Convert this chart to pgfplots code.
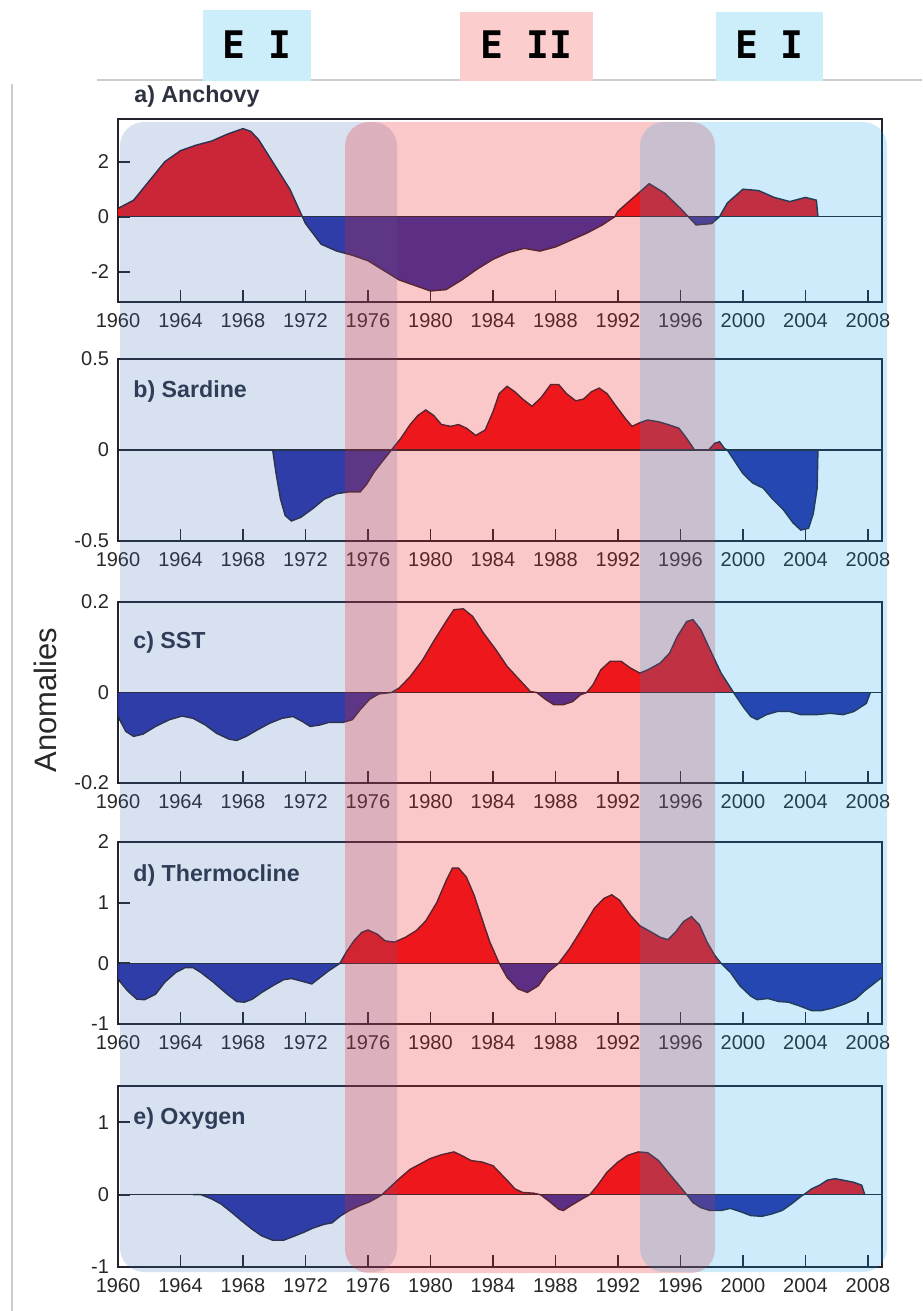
\documentclass[border=0pt]{standalone}
\usepackage{pgfplots}
\pgfplotsset{compat=1.18}
\usepackage{pgfplotstable}
\usepackage{fontspec}
\setmainfont{Liberation Sans}
\newfontfamily\hdrfont{DejaVu Sans Mono}

\definecolor{myred}{RGB}{240,20,25}
\definecolor{myblue}{RGB}{45,50,165}
\definecolor{linecol}{RGB}{40,38,55}
\definecolor{axiscol}{RGB}{35,35,45}
\definecolor{labelcol}{RGB}{40,40,40}
\definecolor{ovblueL}{RGB}{55,105,180}
\definecolor{ovpink}{RGB}{235,35,35}
\definecolor{ovblueR}{RGB}{5,155,230}
\definecolor{hdrblue}{RGB}{204,237,250}
\definecolor{hdrpink}{RGB}{251,205,205}
\definecolor{framecol}{RGB}{205,205,205}
\definecolor{titlecol}{RGB}{45,50,65}

\pgfplotstableread{
x y
1960 0.3
1961 0.6
1962 1.3
1963 2.0
1964 2.4
1965 2.6
1966 2.75
1967 3.0
1968 3.2
1968.5 3.1
1969 2.8
1970 1.9
1971 1.0
1971.8 0
1972 -0.25
1973 -1.0
1974 -1.25
1975 -1.4
1976 -1.6
1977 -1.95
1978 -2.3
1979 -2.5
1980 -2.7
1981 -2.65
1982 -2.3
1983 -1.9
1984 -1.55
1985 -1.3
1986 -1.15
1987 -1.25
1988 -1.1
1989 -0.85
1990 -0.6
1991 -0.3
1991.8 0
1992 0.2
1993 0.7
1994 1.2
1995 0.85
1996 0.3
1996.5 0
1997 -0.3
1998 -0.25
1998.5 0
1999 0.5
2000 1.0
2001 0.95
2002 0.7
2003 0.55
2004 0.7
2004.7 0.6
2004.8 0
}\dataa

\pgfplotstableread{
x y
1969.9 0
1970.1 -0.12
1970.4 -0.27
1970.7 -0.36
1971.1 -0.39
1971.7 -0.37
1972.5 -0.32
1973.2 -0.27
1974.0 -0.24
1974.8 -0.23
1975.5 -0.23
1975.9 -0.19
1976.4 -0.12
1976.9 -0.065
1977.5 0
1978.1 0.064
1978.7 0.14
1979.2 0.19
1979.7 0.22
1980.2 0.19
1980.7 0.14
1981.3 0.13
1981.8 0.14
1982.3 0.12
1982.9 0.08
1983.5 0.11
1984.0 0.21
1984.4 0.31
1984.9 0.35
1985.4 0.32
1985.9 0.28
1986.5 0.24
1987.1 0.29
1987.7 0.36
1988.2 0.36
1988.7 0.31
1989.3 0.27
1989.8 0.28
1990.3 0.32
1990.8 0.34
1991.3 0.31
1991.8 0.25
1992.5 0.17
1992.9 0.13
1993.4 0.15
1993.9 0.165
1994.6 0.155
1995.2 0.14
1995.9 0.12
1996.4 0.064
1996.9 0
1997.8 0
1998.2 0.037
1998.5 0.046
1998.8 0.01
1999.0 0
1999.5 -0.065
2000.0 -0.13
2000.6 -0.18
2001.3 -0.21
2001.9 -0.27
2002.6 -0.33
2003.2 -0.40
2003.7 -0.44
2004.2 -0.43
2004.5 -0.35
2004.75 -0.21
2004.8 0
}\datab

\pgfplotstableread{
x y
1960.0 -0.053
1960.5 -0.086
1961.0 -0.097
1961.6 -0.092
1962.4 -0.075
1963.3 -0.06
1964.1 -0.052
1964.8 -0.057
1965.6 -0.072
1966.3 -0.09
1967.1 -0.103
1967.6 -0.106
1968.2 -0.097
1968.9 -0.083
1969.7 -0.068
1970.5 -0.057
1971.2 -0.053
1971.8 -0.064
1972.3 -0.075
1972.9 -0.072
1973.5 -0.066
1974.4 -0.066
1975.0 -0.06
1975.5 -0.038
1976.1 -0.015
1976.7 -0.003
1977.5 0
1978.0 0.01
1978.7 0.035
1979.5 0.072
1980.2 0.113
1981.0 0.157
1981.5 0.183
1982.1 0.185
1982.7 0.168
1983.4 0.131
1984.2 0.094
1984.9 0.058
1985.7 0.028
1986.4 0.002
1986.8 0
1987.4 -0.016
1987.9 -0.027
1988.5 -0.027
1989.1 -0.02
1989.6 -0.005
1990.0 0
1990.4 0.017
1990.9 0.05
1991.5 0.069
1992.2 0.069
1992.8 0.054
1993.4 0.043
1993.9 0.05
1994.7 0.065
1995.3 0.087
1995.8 0.124
1996.4 0.157
1996.8 0.161
1997.3 0.139
1997.9 0.094
1998.6 0.043
1999.4 0
2000.0 -0.031
2000.5 -0.053
2000.9 -0.06
2001.5 -0.049
2002.2 -0.042
2003.0 -0.042
2003.7 -0.049
2004.7 -0.049
2005.6 -0.046
2006.4 -0.049
2007.1 -0.042
2007.9 -0.024
2008.1 -0.005
2008.15 0
}\datac

\pgfplotstableread{
x y
1960.0 -0.26
1960.6 -0.45
1961.2 -0.59
1961.7 -0.6
1962.4 -0.51
1963.0 -0.31
1963.7 -0.15
1964.3 -0.07
1964.8 -0.07
1965.3 -0.15
1966.1 -0.31
1967.0 -0.51
1967.6 -0.63
1968.1 -0.64
1968.6 -0.59
1969.2 -0.48
1969.9 -0.37
1970.6 -0.27
1971.1 -0.25
1971.7 -0.29
1972.4 -0.34
1972.8 -0.26
1973.5 -0.12
1974.2 0
1974.6 0.18
1975.1 0.37
1975.6 0.51
1976.0 0.55
1976.6 0.48
1977.1 0.37
1977.7 0.35
1978.4 0.43
1979.1 0.54
1979.7 0.7
1980.4 1.0
1981.0 1.36
1981.4 1.57
1981.8 1.57
1982.3 1.42
1982.8 1.12
1983.3 0.73
1983.8 0.35
1984.4 0
1984.9 -0.23
1985.6 -0.42
1986.2 -0.48
1986.9 -0.37
1987.5 -0.15
1988.2 0
1988.9 0.24
1989.7 0.57
1990.5 0.91
1991.1 1.07
1991.6 1.13
1992.1 1.04
1992.8 0.79
1993.4 0.62
1994.1 0.52
1994.7 0.43
1995.2 0.39
1995.7 0.52
1996.2 0.69
1996.7 0.77
1997.2 0.64
1997.7 0.35
1998.2 0.13
1998.6 0
1999.2 -0.15
1999.8 -0.37
2000.5 -0.54
2000.9 -0.6
2001.6 -0.58
2002.3 -0.63
2002.9 -0.64
2003.6 -0.7
2004.4 -0.78
2005.0 -0.78
2005.7 -0.74
2006.5 -0.67
2007.2 -0.59
2007.8 -0.45
2008.5 -0.31
2008.9 -0.23
}\datad

\pgfplotstableread{
x y
1964.8 0
1965.3 0
1966.0 -0.06
1966.6 -0.13
1967.3 -0.25
1967.9 -0.36
1968.6 -0.48
1969.2 -0.57
1969.9 -0.63
1970.6 -0.63
1971.2 -0.58
1971.9 -0.52
1972.5 -0.46
1973.2 -0.41
1973.7 -0.39
1974.2 -0.3
1974.8 -0.22
1975.5 -0.15
1976.1 -0.1
1976.6 -0.04
1976.9 0
1977.4 0.1
1978.1 0.24
1978.7 0.35
1979.4 0.43
1980.0 0.5
1980.7 0.55
1981.5 0.59
1982.0 0.54
1982.6 0.47
1983.3 0.45
1984.0 0.4
1984.4 0.31
1984.9 0.2
1985.4 0.08
1985.9 0.03
1986.6 0.02
1987.0 0
1987.1 -0.01
1987.7 -0.11
1988.2 -0.2
1988.5 -0.22
1989.0 -0.15
1989.7 -0.06
1990.2 0
1990.7 0.13
1991.3 0.31
1992.0 0.45
1992.6 0.54
1993.3 0.59
1993.9 0.58
1994.6 0.47
1995.2 0.31
1995.9 0.13
1996.4 0
1996.8 -0.11
1997.3 -0.18
1997.9 -0.22
1998.6 -0.22
1999.2 -0.19
1999.9 -0.24
2000.5 -0.29
2001.2 -0.3
2001.8 -0.27
2002.5 -0.22
2003.1 -0.13
2003.8 -0.01
2003.9 0
2004.4 0.08
2004.9 0.13
2005.4 0.2
2005.9 0.22
2006.4 0.2
2007.1 0.17
2007.6 0.13
2007.8 0
}\datae

\pgfplotsset{
  panel/.style={
    scale only axis, width=382pt, anchor=north west,
    xmin=1960, xmax=2008.9,
    xtick={1960,1964,1968,1972,1976,1980,1984,1988,1992,1996,2000,2004,2008},
    xticklabels={1960,1964,1968,1972,1976,1980,1984,1988,1992,1996,2000,2004,2008},
    tick align=inside, xtick pos=left, ytick pos=left,
    major tick length=6pt,
    axis line style={draw=axiscol, line width=0.8pt},
    xtick style={draw=axiscol, line width=0.9pt},
    ytick style={draw=axiscol, line width=0.9pt},
    ticklabel style={font=\fontsize{10}{12}\selectfont, text=labelcol},
    xticklabel style={yshift=-2pt},
    yticklabel style={xshift=-1pt},
  },
}
\tikzset{
  ptitle/.style={anchor=west, font=\bfseries\fontsize{11.6}{13}\selectfont, text=titlecol, inner sep=0pt},
}

\newcommand{\anomaly}[1]{%
  \addplot[draw=none, fill=myred] table[x index=0, y expr={max(\thisrowno{1},0)}] {#1} \closedcycle;
  \addplot[draw=none, fill=myblue] table[x index=0, y expr={min(\thisrowno{1},0)}] {#1} \closedcycle;
  \addplot[linecol, line width=0.7pt] table[x index=0, y index=1] {#1};
  \addplot[axiscol, line width=0.8pt] coordinates {(1960,0) (2008.9,0)};
}

\begin{document}
\begin{tikzpicture}
\useasboundingbox (0pt,0pt) rectangle (461pt,-655.5pt);

% frame lines
\draw[framecol, line width=0.6pt] (48.5pt,-40pt) -- (461pt,-40pt);
\draw[framecol, line width=0.6pt] (6pt,-42pt) -- (6pt,-655.5pt);

% header boxes
\fill[hdrblue] (101.5pt,-5pt) rectangle (155.5pt,-40.5pt);
\fill[hdrpink] (230pt,-6pt) rectangle (296.5pt,-40.5pt);
\fill[hdrblue] (358pt,-6pt) rectangle (411.5pt,-40.5pt);
\node[font=\hdrfont\bfseries\fontsize{19}{20}\selectfont] at (128.5pt,-22.5pt) {E I};
\node[font=\hdrfont\bfseries\fontsize{19}{20}\selectfont] at (263.25pt,-22.5pt) {E II};
\node[font=\hdrfont\bfseries\fontsize{19}{20}\selectfont] at (384.75pt,-22.5pt) {E I};

% a) Anchovy
\begin{axis}[panel, at={(59pt,-59.5pt)}, height=91.5pt,
  ymin=-3.1, ymax=3.55, ytick={-2,0,2}, yticklabels={-2,0,2}]
  \anomaly{\dataa}
\end{axis}
\node[ptitle] at (67pt,-48.5pt) {a) Anchovy};

% b) Sardine
\begin{axis}[panel, at={(59pt,-179.5pt)}, height=91pt,
  ymin=-0.5, ymax=0.5, ytick={-0.5,0,0.5}, yticklabels={-0.5,0,0.5}]
  \anomaly{\datab}
  \node[ptitle, xshift=7.5pt, yshift=-16pt] at (rel axis cs:0,1) {b) Sardine};
\end{axis}

% c) SST
\begin{axis}[panel, at={(59pt,-301pt)}, height=90.5pt,
  ymin=-0.2, ymax=0.2, ytick={-0.2,0,0.2}, yticklabels={-0.2,0,0.2}]
  \anomaly{\datac}
  \node[ptitle, xshift=7.5pt, yshift=-20pt] at (rel axis cs:0,1) {c) SST};
\end{axis}

% d) Thermocline
\begin{axis}[panel, at={(59pt,-421pt)}, height=91pt,
  ymin=-1, ymax=2, ytick={-1,0,1,2}, yticklabels={-1,0,1,2}]
  \anomaly{\datad}
  \node[ptitle, xshift=7.5pt, yshift=-16.5pt] at (rel axis cs:0,1) {d) Thermocline};
\end{axis}

% e) Oxygen
\begin{axis}[panel, at={(59pt,-543pt)}, height=90.5pt,
  ymin=-1, ymax=1.5, ytick={-1,0,1}, yticklabels={-1,0,1}]
  \anomaly{\datae}
  \node[ptitle, xshift=7.5pt, yshift=-16.5pt] at (rel axis cs:0,1) {e) Oxygen};
\end{axis}

% y label
\node[rotate=90, font=\fontsize{15.5}{17}\selectfont, text=labelcol] at (22.5pt,-350pt) {Anomalies};

% regime shading
\fill[ovblueL, opacity=0.2, rounded corners=12pt] (60pt,-61pt) rectangle (198.5pt,-636pt);
\fill[ovpink, opacity=0.25, rounded corners=12pt] (172.5pt,-61pt) rectangle (357.5pt,-636.5pt);
\fill[ovblueR, opacity=0.2, rounded corners=12pt] (320pt,-61pt) rectangle (443.5pt,-636pt);
\end{tikzpicture}
\end{document}
